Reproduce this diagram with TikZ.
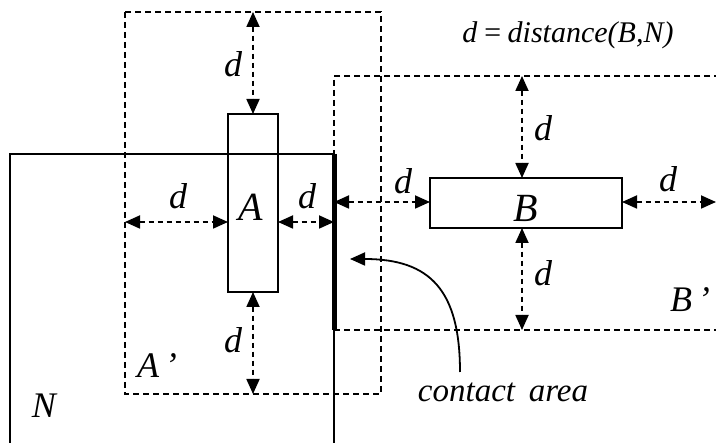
\documentclass[tikz,border=0pt]{standalone}
\usepackage{fontspec}
\setmainfont{Liberation Serif}[ItalicFont={Liberation Serif Italic}]
\usetikzlibrary{arrows.meta}
\begin{document}
\begin{tikzpicture}[x=1pt,y=-1pt,
  solidbox/.style={draw,line width=2pt},
  dashbox/.style={draw,line width=1.8pt,dash pattern=on 6pt off 4pt},
  darr/.style={line width=1.8pt,dash pattern=on 5.5pt off 3.5pt,{Triangle[length=15pt,width=13pt]}-{Triangle[length=15pt,width=13pt]}},
  lbl/.style={font=\fontsize{36}{36}\selectfont\itshape,inner sep=0pt},
  big/.style={font=\fontsize{40}{40}\selectfont\itshape,inner sep=0pt}]
\useasboundingbox (0,0) rectangle (716,443);
% N
\draw[solidbox] (10,470) -- (10,154) coordinate (Ntl) -- (334,154) coordinate (Ntr) -- (334,470);
\draw[line width=5pt] (334,154) coordinate (Ca) -- (334,330) coordinate (Cb);
% A'
\draw[dashbox] (125,12) rectangle (381,394);
% B'
\draw[dashbox] (730,76) -- (334,76) -- (334,330) -- (730,330);
% A
\node[solidbox,minimum width=50pt,minimum height=178pt,inner sep=0pt] (A) at (253,203) {};
\node[big] at (251,207) {A};
% B
\node[solidbox,minimum width=192pt,minimum height=50pt,inner sep=0pt] (B) at (526,203) {};
\node[big] at (526,208) {B};
% coordinates on A' and B'
\coordinate (Atop) at (253,12);
\coordinate (Abot) at (253,394);
\coordinate (Aleft) at (125,222);
\coordinate (Aright) at (334,222);
\coordinate (Btop) at (522,76);
\coordinate (Bbot) at (522,330);
\coordinate (Bleft) at (334,202);
\coordinate (Bright) at (716,202);
% arrows A
\draw[darr] (Atop) -- (253,114);
\draw[darr] (253,292) -- (Abot);
\draw[darr] (Aleft) -- (228,222);
\draw[darr] (278,222) -- (Aright);
% arrows B
\draw[darr] (Btop) -- (522,178);
\draw[darr] (522,228) -- (Bbot);
\draw[darr] (Bleft) -- (430,202);
\draw[darr] (622,202) -- (Bright);
% d labels
\node[lbl] at (233,64) {d};
\node[lbl] at (233,340) {d};
\node[lbl] at (178,196) {d};
\node[lbl] at (307,196) {d};
\node[lbl] at (403,181) {d};
\node[lbl] at (668,179) {d};
\node[lbl] at (543,128) {d};
\node[lbl] at (543,273) {d};
% region labels
\node[lbl] at (157,366) {A\,\char"27};
\node[lbl] at (44,406) {N};
\node[lbl] at (690,300) {B\,\char"27};
% equation
\node[font=\fontsize{30}{30}\selectfont\itshape,inner sep=0pt] at (568,35) {d\,=\,distance(B,N)};
% contact area
\node[font=\fontsize{33}{33}\selectfont\itshape,inner sep=0pt] (ca) at (503,392) {contact\, area};
\coordinate (catip) at (350,259);
\draw[line width=1.8pt,-{Triangle[length=15pt,width=13pt]}] (460,372) .. controls (460,290) and (430,259) .. (catip);
\end{tikzpicture}
\end{document}
